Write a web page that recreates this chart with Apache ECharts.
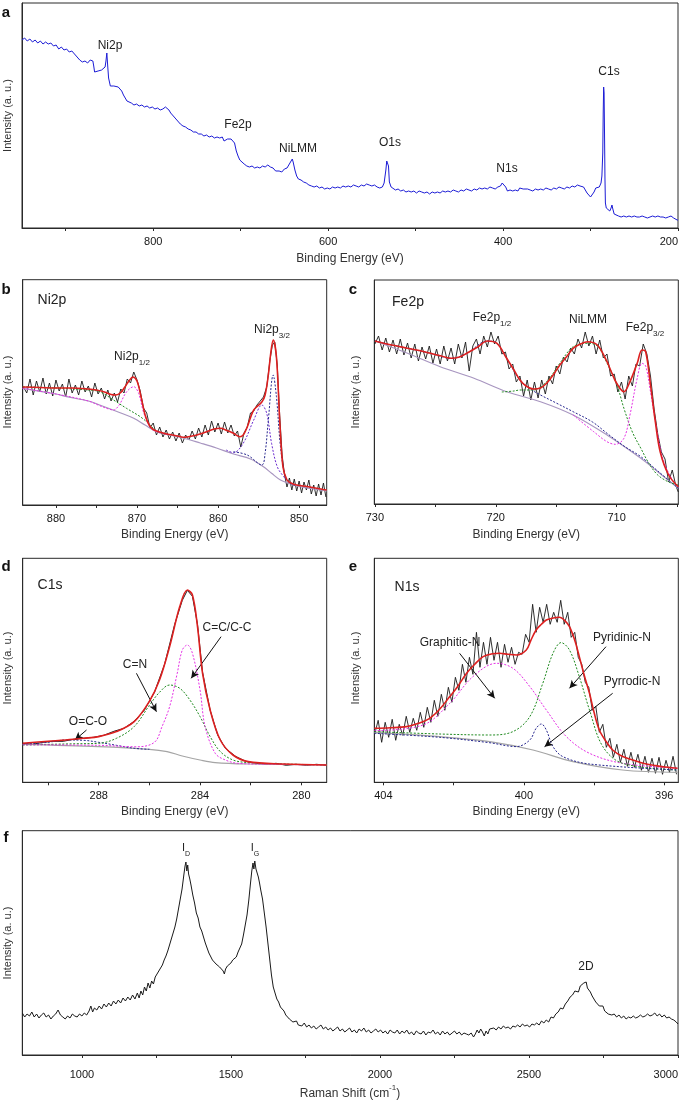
<!DOCTYPE html>
<html><head><meta charset="utf-8">
<script src="https://cdn.jsdelivr.net/npm/echarts@6/dist/echarts.min.js"></script>
<style>html,body{margin:0;padding:0;background:#fff}#c{width:685px;height:1101px}</style>
</head><body><div id="c"></div>
<script>
// ---------- Panel a: XPS survey ----------
const surveyXPS = [[950,188],[947,190],[944,187],[941,189],[938,186],[935,188],[932,185],[929,187],[926,184],[923,186],[920,184],[917,185],[914,182],[911,183],[908,179],[905,181],[902,178],[899,179],[896,176],[893,177],[890,174],[887,171],[884,168],[881,166],[878,167],[875,165],[872,168],[869,167],[868,162],[867,156],[865,155],[863,157],[861,155],[859,158],[857,157],[855,161],[854,167],[853,175],[852,162],[851,150],[849,142],[847,141],[845,142],[843,140],[840,141],[838,139],[836,137],[834,133],[832,130],[830,127],[828,126],[825,125],[822,123],[819,124],[816,122],[813,123],[810,121],[807,122],[804,120],[801,121],[798,119],[795,120],[792,118],[789,119],[786,121],[784,119],[782,118],[780,115],[778,113],[775,110],[772,107],[769,104],[766,102],[763,101],[760,99],[757,98],[754,96],[751,96],[748,94],[745,94],[742,92],[739,93],[736,91],[733,92],[730,90],[727,91],[724,90],[721,91],[719,87],[717,86],[715,89],[713,91],[711,89],[709,90],[707,85],[705,77],[703,72],[701,68],[699,66],[696,64],[693,62],[690,61],[687,62],[684,60],[681,61],[678,60],[675,62],[672,61],[669,63],[666,61],[663,60],[660,57],[658,55],[656,57],[653,56],[650,59],[647,60],[645,62],[643,66],[641,69],[640,66],[638,58],[636,52],[634,49],[631,48],[628,46],[625,45],[622,43],[619,42],[616,41],[613,42],[610,40],[607,41],[604,39],[601,40],[598,39],[595,41],[592,40],[589,41],[586,40],[583,42],[580,41],[577,42],[574,41],[571,43],[568,42],[565,41],[562,43],[559,42],[556,44],[553,43],[550,42],[547,43],[544,41],[541,40],[538,41],[536,45],[534,58],[533,67],[532,69],[531,62],[530,46],[528,41],[526,40],[523,38],[520,39],[517,37],[514,38],[511,36],[508,37],[505,36],[502,37],[499,35],[496,37],[493,36],[490,35],[487,36],[484,34],[481,36],[478,35],[475,36],[472,35],[469,37],[466,36],[463,37],[460,36],[457,38],[454,37],[451,36],[448,38],[445,37],[442,39],[439,38],[436,37],[433,39],[430,38],[427,40],[424,39],[421,40],[418,39],[415,41],[412,40],[409,39],[406,41],[403,42],[401,45],[399,46],[397,41],[395,37],[392,38],[389,37],[386,38],[383,37],[381,40],[379,41],[377,39],[375,38],[372,39],[369,38],[366,37],[363,39],[360,38],[357,39],[354,38],[351,40],[348,39],[345,38],[342,40],[339,39],[336,41],[333,40],[330,39],[327,41],[324,40],[321,42],[318,41],[315,43],[312,42],[310,43],[308,41],[306,38],[304,35],[302,33],[300,31],[298,32],[296,36],[294,40],[292,42],[290,41],[288,45],[287,52],[286,75],[285.5,115],[285,141],[284.5,135],[284,95],[283.5,50],[283,25],[282,20],[280,18],[278,17],[276.5,20],[275.5,23],[274.5,19],[273,14],[271,12],[268,12],[265,11],[262,12],[259,11],[256,12],[253,11],[250,12],[247,11],[244,11],[241,12],[238,11],[235,10],[232,11],[229,12],[226,11],[223,12],[220,11],[217,11],[214,10],[211,11],[208,12],[205,10],[203,9],[201,8],[200,8]];
const surveyTicks = [200,300,400,500,600,700,800,900];
const surveyLabels = [200,400,600,800];

// ---------- Panel b: Ni2p ----------
const ni2pRaw = [[884.0,118],[883.6,112],[883.2,126],[882.8,110],[882.4,124],[882.0,113],[881.6,127],[881.2,111],[880.8,122],[880.4,109],[880.0,125],[879.6,114],[879.2,121],[878.8,108],[878.4,126],[878.0,112],[877.6,120],[877.2,110],[876.8,124],[876.4,113],[876.0,119],[875.6,108],[875.2,122],[874.8,111],[874.4,117],[874.0,106],[873.6,115],[873.2,104],[872.8,112],[872.4,103],[872.0,116],[871.6,112],[871.2,126],[870.8,122],[870.4,133],[870.0,125],[869.6,114],[869.2,97],[868.8,92],[868.4,77],[868.0,82],[867.6,70],[867.2,78],[866.8,68],[866.4,75],[866.0,66],[865.6,73],[865.2,64],[864.8,72],[864.4,62],[864.0,70],[863.6,65],[863.2,74],[862.8,66],[862.4,77],[862.0,68],[861.6,80],[861.2,70],[860.8,84],[860.4,73],[860.0,82],[859.6,71],[859.2,83],[858.8,72],[858.4,80],[858.0,69],[857.6,74],[857.2,58],[856.8,72],[856.4,78],[856.0,92],[855.6,94],[855.2,100],[854.8,104],[854.4,108],[854.0,118],[853.6,145],[853.3,160],[853.0,163],[852.7,140],[852.4,90],[852.1,50],[851.8,30],[851.5,18],[851.2,27],[850.9,15],[850.6,26],[850.3,14],[850.0,24],[849.7,12],[849.4,23],[849.1,15],[848.8,25],[848.5,11],[848.2,20],[847.9,9],[847.6,21],[847.3,10],[847.0,22],[846.7,8]];
const ni2pFit = [[884.1,118],[882,117.5],[880,117],[878,117],[876,116],[875,115],[874,113],[873.2,110.5],[872.6,110],[872,112.5],[871.5,118],[871,124],[870.5,128],[870,124],[869.5,108],[869,90],[868.5,80],[868,75.5],[867,72.5],[866,70.5],[865,69],[864.3,67.7],[863.5,68.5],[862.6,70],[862,71.5],[861.4,73.3],[860.5,76],[859.7,76.7],[858.9,74.5],[858.1,71.7],[857.3,68.3],[856.9,70],[856.4,78],[855.6,95],[854.6,103],[854.2,110],[853.8,130],[853.5,152],[853.2,165],[852.8,148],[852.4,85],[852.0,38.3],[851.5,25],[851,22],[850.3,20],[849,18.5],[848,17],[847,15.5],[846.6,15]];
const ni2pBg = [[884.1,116.7],[880,111],[878.7,108.3],[876,104],[874.6,100],[872,92],[870.4,86.7],[869,80],[867.6,73.3],[866,70],[864.3,67],[862.2,62],[860.2,57],[858.1,51],[856,46],[854.4,38.3],[853.4,31.7],[852.3,25],[851,21],[849.9,18.3],[846.6,14]];
const ni2p12Peak = [[884.1,116.7],[880,111],[876,104],[874.6,99.3],[873.5,96],[872.9,95],[872.2,100],[871.3,113],[870.4,118.3],[869.8,111.7],[869.2,93],[868.4,78],[867.6,73.3],[866,70]];
const ni2p12Sat = [[884.1,118.3],[880,117],[876,115],[874.6,113.3],[872.9,105],[871.3,96.7],[869.6,88.3],[868.6,81.7],[867.6,74],[866.5,71]];
const ni2p32Shoulder = [[859,55],[858.1,52.3],[856.9,61.7],[855.6,85],[854.6,100],[854.0,91.7],[853.4,61.7],[852.7,38.3],[851.9,28.3],[851.3,23.3],[850.5,20]];
const ni2p32Main = [[858.1,53.3],[856.4,50],[854.6,40],[854.2,51.7],[853.8,85],[853.2,130],[852.8,108.3],[852.3,58.3],[851.7,28.3],[851.1,21.7],[850.5,19.5]];
const ni2pTicks = [850,855,860,865,870,875,880];
const ni2pLabels = [850,860,870,880];

// ---------- Panel c: Fe2p ----------
const fe2pRaw = [[730.0,160],[729.7,168],[729.4,154],[729.1,166],[728.8,152],[728.5,164],[728.2,150],[727.9,165],[727.6,149],[727.3,161],[727.0,146],[726.7,160],[726.4,143],[726.1,157],[725.8,145],[725.5,158],[725.2,141],[724.9,155],[724.6,140],[724.3,158],[724.0,143],[723.7,156],[723.4,140],[723.1,160],[722.8,146],[722.5,162],[722.2,133],[721.9,158],[721.6,165],[721.3,150],[721.0,168],[720.7,157],[720.4,172],[720.1,160],[719.8,168],[719.5,150],[719.2,152],[718.9,135],[718.6,140],[718.3,122],[718.0,128],[717.7,108],[717.4,124],[717.1,104],[716.8,122],[716.5,106],[716.2,124],[715.9,110],[715.6,128],[715.3,120],[715.0,138],[714.7,130],[714.4,147],[714.1,142],[713.8,156],[713.5,150],[713.2,165],[712.9,156],[712.6,172],[712.3,158],[712.0,168],[711.7,150],[711.4,164],[711.1,146],[710.8,150],[710.5,128],[710.2,130],[709.9,112],[709.6,122],[709.3,105],[709.0,128],[708.7,118],[708.4,140],[708.1,138],[707.8,160],[707.5,150],[707.2,128],[706.9,95],[706.6,70],[706.3,52],[706.0,45],[705.7,22],[705.4,34],[705.1,18],[704.9,12]];
const fe2pFit = [[730,163],[729,160],[728,157.5],[727.3,155.7],[726,152.5],[725.4,150.7],[724.5,148],[723.7,145.7],[723,147],[722.4,150.7],[721.5,157],[720.7,163],[719.9,160.7],[719.1,145.7],[718.5,134],[718,124],[717.5,118],[716.9,115],[716.3,116],[715.8,120.7],[715.2,130],[714.7,139],[714.1,148],[713.6,155.7],[713,160],[712.4,162.3],[711.6,159],[710.8,142.3],[710.4,131],[710,120.7],[709.4,112.3],[708.9,122.3],[708.3,140.7],[707.9,154],[707.6,152.3],[707.2,119],[706.8,82.3],[706.4,52.3],[705.7,29],[704.9,17.3]];
const fe2pBg = [[730,163],[727.3,150.7],[724.6,137.3],[721.8,125.7],[719.1,112.3],[716.3,102.3],[713.6,89],[710.8,69],[708,45.7],[706.6,32.3],[704.9,15.7]];
const fe2p12Peak = [[730,163],[729,160],[727.3,155.7],[725.4,150.7],[723.7,145.7],[722.4,150.7],[720.7,163],[719.9,160.7],[719.1,145.7],[718,124],[717,114],[716.3,109],[715,101],[713.6,92.3],[712,82],[710.8,70.7],[709.4,58],[708,47.3],[706.6,33],[704.9,15.7]];
const fe2pNiLMM = [[719.5,112],[718.5,113],[718,114],[716.9,114],[715.8,122.3],[714.7,140.7],[713.6,157.3],[712.4,160.7],[711.6,158],[710.8,141],[710,120],[709.4,95.7],[708.7,72],[708,55.7],[707.3,40],[706.6,29],[705.7,22],[704.9,19]];
const fe2p32Peak = [[713.6,89],[711.9,72.3],[710.8,62.3],[710.1,59.7],[709.4,65.7],[708.9,89],[708.3,125.7],[707.9,140.7],[707.6,138],[707.2,112.3],[706.6,69],[706.1,42.3],[705.3,22.3],[704.9,17]];
const fe2pTicks = [705,710,715,720,725,730];
const fe2pLabels = [710,720,730];

// ---------- Panel d: C1s ----------
const c1sRaw = [[291.0,39],[290.6,38],[290.2,40],[289.8,41],[289.4,41],[289.0,43],[288.6,44],[288.2,45],[287.8,47],[287.4,51],[287.0,54],[286.6,61],[286.2,72],[285.8,90],[285.4,118],[285.0,158],[284.7,182],[284.5,192],[284.3,186],[284.1,158],[283.9,110],[283.6,72],[283.3,47],[283.0,34],[282.6,26],[282.2,21],[281.8,19],[281.4,18],[281.0,19],[280.6,17],[280.2,18],[279.8,17],[279.4,18],[279.0,17]];
const c1sFit = [[291,39],[290,41],[289.3,42.3],[288.6,44],[288,45.7],[287.3,50.7],[286.6,60.7],[286,81],[285.6,102.3],[285.2,135.7],[284.8,175.7],[284.5,192.3],[284.3,187.3],[284.1,155.7],[283.9,109],[283.6,72.3],[283.2,42.3],[282.7,27.3],[282.1,20.7],[280.7,18.3],[279,17.3]];
const c1sBg = [[291,38],[288,35.7],[286,33],[285.3,30.7],[284.7,26.3],[284,22.3],[283.4,19.7],[282.1,18.3],[279,17.3]];
const c1sCN = [[291,37.3],[289,38.5],[288,39],[287.3,44],[286.6,55.7],[286,77],[285.6,90],[285.2,97.3],[284.8,94],[284.4,82.3],[284,65.7],[283.6,45.7],[283.2,30.7],[282.7,22.3],[282.1,19.7],[281,18.5],[279,17.3]];
const c1sCC = [[291,37.5],[288,37],[286.5,35.5],[285.8,40],[285.5,55.7],[285.2,75.7],[284.9,109],[284.7,132.3],[284.5,137.3],[284.3,129],[284,92.3],[283.8,55.7],[283.4,29],[283,22.3],[282.5,19],[281,18],[279,17.3]];
const c1sOCO = [[291,38],[290,40],[289.3,42.3],[288.6,42],[288,40],[287.3,37],[286.6,34],[286,33]];
const c1sArrows = [[[288.48,52.3],[288.94,42.3]],[[286.51,109],[285.72,70.6]],[[283.17,145.6],[284.35,104]]];
const c1sTicks = [280,282,284,286,288,290];
const c1sLabels = [280,284,288];

// ---------- Panel e: N1s ----------
const n1sRaw = [[404.25,48],[404.15,62],[404.05,40],[403.95,60],[403.85,45],[403.75,63],[403.65,42],[403.55,58],[403.45,47],[403.35,66],[403.25,50],[403.15,64],[403.05,52],[402.95,70],[402.85,55],[402.75,75],[402.65,60],[402.55,82],[402.45,66],[402.35,88],[402.25,72],[402.15,95],[402.05,80],[401.95,105],[401.85,92],[401.75,118],[401.65,100],[401.55,125],[401.45,108],[401.35,150],[401.25,115],[401.15,140],[401.05,118],[400.95,145],[400.85,122],[400.75,140],[400.65,115],[400.55,138],[400.45,120],[400.35,135],[400.25,118],[400.15,130],[400.05,128],[399.95,148],[399.85,140],[399.75,178],[399.65,150],[399.55,175],[399.45,160],[399.35,178],[399.25,158],[399.15,170],[399.05,160],[398.95,182],[398.85,158],[398.75,170],[398.65,145],[398.55,150],[398.45,125],[398.35,118],[398.25,100],[398.15,95],[398.05,72],[397.95,76],[397.85,50],[397.75,58],[397.65,35],[397.55,44],[397.45,25],[397.35,38],[397.25,20],[397.15,33],[397.05,16],[396.95,30],[396.85,15],[396.75,28],[396.65,12],[396.55,26],[396.45,10],[396.35,24],[396.25,9],[396.15,25],[396.05,8],[395.95,22],[395.85,10],[395.75,26],[395.65,8]];
const n1sFit = [[404.26,54],[403.8,54.5],[403.34,55.7],[403,59],[402.68,64],[402.4,73],[402.11,85.7],[401.9,95],[401.63,109],[401.4,118],[401.16,125.7],[400.9,128.5],[400.69,129],[400.45,128],[400.21,127.3],[399.93,132.3],[399.8,142],[399.65,152.3],[399.5,158],[399.36,162.3],[399.2,164],[398.98,165],[398.84,162],[398.7,155.7],[398.55,142],[398.42,125.7],[398.28,107],[398.13,89],[398.0,70],[397.85,52.3],[397.66,41],[397.47,32.3],[397.2,26],[396.9,22.3],[396.6,19],[396.24,16.7],[395.9,15],[395.62,14]];
const n1sBg = [[404.26,49.7],[402.4,45.7],[400.97,40.7],[399.74,32.3],[398.6,20.7],[397.19,12.3],[395.62,10]];
const n1sGraphitic = [[404.26,51.7],[402.87,57.3],[402.11,79],[401.45,105.7],[400.78,119],[400.31,114],[399.83,95.7],[399.36,72.3],[398.79,45.7],[398.13,29],[397.19,19],[395.62,14]];
const n1sPyridinic = [[404.26,50.7],[402.4,48.3],[400.97,47.3],[400.31,50.7],[399.83,65.7],[399.46,99],[399.17,129],[398.94,139.7],[398.7,132.3],[398.42,105.7],[398.13,72.3],[397.75,35.7],[397.19,19],[395.62,12.3]];
const n1sPyrrolic = [[404.26,49],[402.4,45],[401,39.7],[400.21,35.7],[399.83,42.3],[399.65,54],[399.5,58.3],[399.36,52.3],[399.17,35.7],[398.89,25.7],[398.13,18.3],[395.62,12.3]];
const n1sArrows = [[[401.83,129],[400.83,84]],[[397.66,135.6],[398.70,94]],[[397.47,89],[399.41,35.6]]];
const n1sTicks = [396,398,400,402,404];
const n1sLabels = [396,400,404];

// ---------- Panel f: Raman ----------
const raman = [[800,42],[808,38],[816,41],[824,39],[832,43],[840,38],[848,41],[856,37],[864,40],[872,42],[880,38],[888,40],[896,36],[904,39],[912,41],[920,45],[928,40],[936,38],[944,36],[952,39],[960,37],[968,41],[976,39],[984,38],[992,41],[1000,39],[1008,42],[1016,40],[1024,44],[1030,49],[1036,43],[1042,47],[1050,45],[1058,49],[1066,46],[1074,51],[1082,48],[1090,52],[1098,49],[1106,54],[1114,51],[1122,55],[1130,52],[1138,57],[1146,54],[1154,58],[1162,55],[1170,60],[1178,56],[1186,62],[1192,57],[1198,64],[1204,60],[1210,68],[1216,64],[1222,72],[1228,67],[1234,74],[1240,71],[1246,78],[1252,80],[1258,84],[1264,86],[1270,90],[1276,95],[1282,99],[1288,104],[1294,110],[1300,116],[1306,122],[1312,128],[1318,136],[1324,146],[1330,156],[1336,166],[1342,180],[1346,189],[1349,193],[1352,184],[1355,190],[1358,181],[1362,176],[1366,170],[1372,160],[1378,152],[1384,142],[1390,137],[1396,128],[1402,124],[1408,118],[1414,112],[1420,107],[1426,102],[1432,100],[1438,95],[1444,97],[1450,91],[1456,93],[1462,88],[1468,90],[1474,84],[1478,81],[1482,86],[1488,89],[1494,87],[1500,92],[1506,95],[1512,93],[1518,98],[1524,103],[1530,107],[1536,111],[1542,120],[1548,130],[1554,140],[1560,155],[1565,170],[1570,184],[1574,192],[1577,186],[1580,194],[1584,186],[1588,185],[1592,178],[1596,172],[1600,165],[1606,156],[1612,142],[1618,128],[1624,112],[1630,96],[1636,80],[1642,68],[1648,62],[1654,56],[1660,53],[1666,48],[1672,46],[1678,44],[1684,40],[1690,38],[1696,36],[1702,37],[1708,33],[1714,32],[1720,34],[1726,30],[1732,31],[1738,29],[1746,32],[1754,28],[1762,30],[1770,27],[1778,29],[1786,26],[1794,28],[1802,30],[1810,26],[1818,28],[1826,25],[1834,27],[1842,24],[1850,26],[1858,28],[1866,24],[1874,26],[1882,23],[1890,25],[1898,27],[1906,23],[1914,25],[1922,22],[1930,26],[1938,24],[1946,27],[1954,23],[1962,25],[1970,22],[1978,24],[1986,26],[1994,23],[2002,25],[2010,22],[2018,24],[2026,21],[2034,25],[2042,23],[2050,22],[2058,25],[2066,21],[2074,24],[2082,22],[2090,25],[2098,21],[2106,23],[2114,20],[2122,24],[2130,22],[2138,21],[2146,24],[2154,20],[2162,23],[2170,22],[2178,25],[2186,21],[2194,23],[2202,20],[2210,24],[2218,21],[2226,23],[2234,20],[2242,22],[2250,24],[2258,21],[2266,23],[2274,20],[2282,22],[2290,21],[2298,20],[2306,22],[2314,18],[2320,21],[2326,25],[2332,22],[2338,26],[2344,23],[2350,19],[2356,24],[2362,21],[2368,26],[2374,24],[2382,27],[2390,25],[2398,28],[2406,26],[2414,29],[2422,27],[2430,28],[2438,26],[2446,29],[2454,28],[2462,30],[2470,28],[2478,31],[2486,29],[2494,30],[2502,28],[2510,31],[2518,30],[2526,32],[2534,30],[2542,34],[2550,32],[2558,35],[2566,33],[2574,38],[2582,37],[2590,41],[2598,43],[2606,47],[2614,46],[2622,51],[2630,54],[2638,58],[2646,60],[2654,64],[2660,66],[2666,63],[2672,69],[2678,67],[2684,72],[2688,70],[2692,73],[2696,67],[2700,69],[2706,63],[2712,59],[2718,57],[2724,53],[2730,51],[2736,49],[2742,47],[2748,49],[2754,44],[2760,45],[2766,41],[2772,43],[2778,40],[2786,41],[2794,38],[2802,40],[2810,37],[2818,39],[2826,36],[2834,38],[2842,37],[2850,39],[2858,37],[2866,38],[2874,40],[2882,38],[2890,39],[2898,41],[2906,39],[2914,40],[2922,42],[2930,39],[2938,41],[2946,38],[2954,40],[2962,37],[2970,38],[2978,36],[2986,35],[2994,33],[3000,31]];
const ramanTicks = [1000,1250,1500,1750,2000,2250,2500,2750,3000];
const ramanLabels = [1000,1500,2000,2500,3000];

// ---------- layout / styles ----------
const FONT = 'Liberation Sans, Arial, Helvetica, sans-serif';
const C = {red:'#dd2020', raw:'#1a1a1a', green:'#1f8a1f', mag:'#e530e5', navy:'#27278f', violet:'#6a2ad0', bgP:'#a896c0', bgG:'#a5a5a5', blue:'#1c1cd6', axis:'#2a2a2a'};
const grids = [
  {left:22, top:3, width:656, height:225},
  {left:22.7, top:279.7, width:304, height:225.3},
  {left:374.3, top:280, width:304, height:224},
  {left:22.7, top:558.3, width:304, height:224},
  {left:374.3, top:558.3, width:304, height:224},
  {left:22.3, top:830.7, width:655.7, height:224.3}
];
const xDefs = [
  {min:200, max:950, inverse:true, ticks:surveyTicks, labels:surveyLabels, margin:8},
  {min:846.6, max:884.1, inverse:true, ticks:ni2pTicks, labels:ni2pLabels, margin:8},
  {min:704.9, max:730.05, inverse:true, ticks:fe2pTicks, labels:fe2pLabels, margin:8},
  {min:279, max:291, inverse:true, ticks:c1sTicks, labels:c1sLabels, margin:8},
  {min:395.6, max:404.26, inverse:true, ticks:n1sTicks, labels:n1sLabels, margin:8},
  {min:800, max:3000, inverse:false, ticks:ramanTicks, labels:ramanLabels, margin:14}
];

const xAxis = xDefs.map((d,i)=>({
  gridIndex:i, type:'value', min:d.min, max:d.max, inverse:d.inverse,
  axisLine:{show:true, onZero:false, lineStyle:{color:C.axis, width:1}},
  axisTick:{show:true, inside:false, length:3, customValues:d.ticks, lineStyle:{color:C.axis, width:1}},
  axisLabel:{show:true, customValues:d.labels, margin:d.margin, fontSize:11, color:'#151515', fontFamily:FONT,
    formatter:function(v){ return String(v); },
    alignMinLabel: i===0 ? 'right' : null, alignMaxLabel: i===5 ? 'right' : null},
  splitLine:{show:false}
}));
const yAxis = grids.map((g,i)=>({
  gridIndex:i, type:'value', min:0, max:g.height,
  axisLine:{show:true, onZero:false, lineStyle:{color:C.axis, width:1}},
  axisTick:{show:false}, axisLabel:{show:false}, splitLine:{show:false}
}));

function ln(gi, data, color, width, dotted, z, smooth){
  return {type:'line', xAxisIndex:gi, yAxisIndex:gi, data:data, symbol:'none', showSymbol:false,
    smooth: smooth ? 0.35 : false, animation:false, silent:true, z:z||2,
    lineStyle:{color:color, width:width, type: dotted ? [2,1.6] : 'solid'}};
}
function arrows(list){
  return {silent:true, animation:false, symbol:['none','arrow'], symbolSize:[6,8], label:{show:false},
    lineStyle:{color:'#111', width:1, type:'solid'},
    data:list.map(a=>[{coord:a[0]},{coord:a[1]}])};
}

const series = [
  ln(0, surveyXPS, C.blue, 1, false, 3),
  // b
  ln(1, ni2pRaw, C.raw, 0.9, false, 2),
  ln(1, ni2pBg, C.bgP, 1.2, false, 3, true),
  ln(1, ni2p12Sat, C.green, 1, true, 4, true),
  ln(1, ni2p12Peak, C.mag, 1, true, 4, true),
  ln(1, ni2p32Shoulder, C.violet, 1, true, 4, true),
  ln(1, ni2p32Main, C.navy, 1, true, 4, true),
  ln(1, ni2pFit, C.red, 1.6, false, 5, true),
  // c
  ln(2, fe2pRaw, C.raw, 0.9, false, 2),
  ln(2, fe2pBg, C.bgP, 1.2, false, 3, true),
  ln(2, fe2p12Peak, C.navy, 1, true, 4, true),
  ln(2, fe2pNiLMM, C.green, 1, true, 4, true),
  ln(2, fe2p32Peak, C.mag, 1, true, 4, true),
  ln(2, fe2pFit, C.red, 1.6, false, 5, true),
  // d
  ln(3, c1sBg, C.bgG, 1.2, false, 3, true),
  ln(3, c1sOCO, C.navy, 1, true, 4, true),
  ln(3, c1sCN, C.green, 1, true, 4, true),
  ln(3, c1sCC, C.mag, 1, true, 4, true),
  Object.assign(ln(3, c1sRaw, C.raw, 1, false, 2), {markLine: arrows(c1sArrows)}),
  ln(3, c1sFit, C.red, 1.6, false, 5, true),
  // e
  ln(4, n1sRaw, C.raw, 0.9, false, 2),
  ln(4, n1sBg, C.bgG, 1.2, false, 3, true),
  ln(4, n1sGraphitic, C.mag, 1, true, 4, true),
  ln(4, n1sPyridinic, C.green, 1, true, 4, true),
  Object.assign(ln(4, n1sPyrrolic, C.navy, 1, true, 4, true), {markLine: arrows(n1sArrows)}),
  ln(4, n1sFit, C.red, 1.6, false, 5, true),
  // f
  ln(5, raman, C.raw, 1, false, 3)
];

// ---------- texts ----------
function t(x, y, text, size, extra){
  return {type:'text', x:x, y:y, silent:true, z:100,
    style:Object.assign({text:text, fontSize:size, fontFamily:FONT, fill:'#222', align:'center', verticalAlign:'middle'}, extra||{})};
}
function sub(x, y, main, s, size){
  return t(x, y, '{m|'+main+'}{s|'+s+'}', size, {rich:{
    m:{fontSize:size, fontFamily:FONT, fill:'#222', lineHeight:size+4, verticalAlign:'top'},
    s:{fontSize:Math.round(size*0.65), fontFamily:FONT, fill:'#222', lineHeight:Math.round(size*0.65), verticalAlign:'bottom', padding:[size-1,0,0,0]}}});
}
function yname(x, y){
  const e = t(x, y, 'Intensity (a. u.)', 11, {fill:'#333'});
  e.rotation = Math.PI/2; return e;
}
const bold = {fontWeight:'bold', fill:'#111'};
const graphics = [
  t(6,13,'a',15,bold), t(6,290,'b',15,bold), t(353,290,'c',15,bold),
  t(6,567,'d',15,bold), t(353,567,'e',15,bold), t(6,838,'f',15,bold),
  yname(8,115.5), yname(7.5,392), yname(356,392), yname(7.5,668), yname(356,668), yname(8,943),
  t(350,259,'Binding Energy (eV)',12,{fill:'#333'}),
  t(174.7,535,'Binding Energy (eV)',12,{fill:'#333'}),
  t(526.3,535,'Binding Energy (eV)',12,{fill:'#333'}),
  t(174.7,812,'Binding Energy (eV)',12,{fill:'#333'}),
  t(526.3,812,'Binding Energy (eV)',12,{fill:'#333'}),
  t(350,1092,'{m|Raman Shift (cm}{s|-1}{m|)}',12,{rich:{
    m:{fontSize:12, fontFamily:FONT, fill:'#333', lineHeight:16, verticalAlign:'bottom'},
    s:{fontSize:8, fontFamily:FONT, fill:'#333', lineHeight:8, verticalAlign:'top'}}}),
  t(110,46,'Ni2p',12), t(238,125,'Fe2p',12), t(298,149,'NiLMM',12),
  t(390,143,'O1s',12), t(507,169,'N1s',12), t(609,72,'C1s',12),
  t(52,300,'Ni2p',14), sub(132,359,'Ni2p','1/2',12), sub(272,332,'Ni2p','3/2',12),
  t(408,302,'Fe2p',14), sub(492,320,'Fe2p','1/2',12), t(588,320,'NiLMM',12), sub(645,330,'Fe2p','3/2',12),
  t(50,585,'C1s',14), t(88,722,'O=C-O',12), t(135,665,'C=N',12), t(227,628,'C=C/C-C',12),
  t(407,587,'N1s',14), t(450,643,'Graphitic-N',12), t(622,638,'Pyridinic-N',12), t(632,682,'Pyrrodic-N',12),
  sub(186,850,'I','D',11), sub(255,850,'I','G',11), t(586,967,'2D',12)
];

const chart = echarts.init(document.getElementById('c'), null, {renderer:'canvas'});
chart.setOption({
  animation:false,
  backgroundColor:'#ffffff',
  grid: grids.map(g=>Object.assign({show:true, borderColor:C.axis, borderWidth:1, backgroundColor:'transparent', containLabel:false, outerBoundsMode:'none'}, g)),
  xAxis: xAxis,
  yAxis: yAxis,
  series: series,
  graphic: graphics
});
</script></body></html>
